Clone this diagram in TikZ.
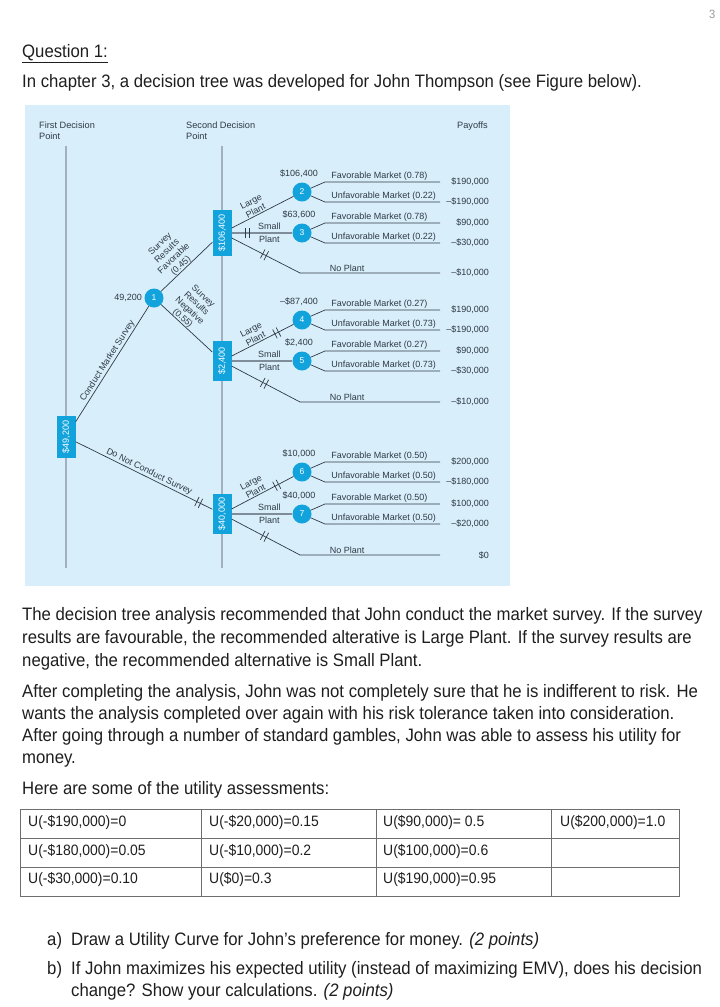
\documentclass[tikz,border=0pt]{standalone}
\usepackage{fontspec}
\setmainfont{Liberation Sans}
\newfontfamily\bodyfont{Liberation Sans}[FakeStretch=0.93]
\usetikzlibrary{positioning,calc}
\definecolor{treepanel}{HTML}{D8EEFB}
\definecolor{treecyan}{HTML}{12A3DD}
\definecolor{treegray}{HTML}{A0B0BE}
\definecolor{treeink}{HTML}{2E3A44}
\definecolor{pageink}{HTML}{1E1E1E}
\definecolor{pagemute}{HTML}{9A9A9A}
\definecolor{gridline}{HTML}{6E6E6E}
\tikzset{
  hdr/.style={font=\fontsize{9.2}{11}\selectfont, text=treeink, align=left, inner sep=0pt, anchor=north west},
  lbl/.style={font=\fontsize{9}{10}\selectfont, text=treeink, inner sep=1pt},
  mkt/.style={font=\fontsize{9}{10}\selectfont, text=treeink, inner sep=1.5pt, anchor=south west},
  pay/.style={font=\fontsize{9}{10}\selectfont, text=treeink, inner sep=0pt, anchor=east},
  val/.style={font=\fontsize{9}{10}\selectfont, text=treeink, inner sep=0pt},
  dbox/.style={rotate=90, fill=treecyan, text=white, font=\fontsize{9}{10}\selectfont, minimum height=19pt, inner sep=0pt},
  chance/.style={circle, fill=treecyan, text=white, font=\fontsize{8.5}{9}\selectfont, minimum size=19pt, inner sep=0pt},
  vline/.style={draw=treegray, line width=2.2pt},
  br/.style={draw=treeink, line width=0.7pt},
  sp/.style={draw=treegray!70!treeink, line width=1.2pt},
  tk/.pic={\draw[br] (-2,-5) -- (-2,5) (2,-5) -- (2,5);},
  body/.style={font=\bodyfont\fontsize{18}{22}\selectfont, text=pageink, inner sep=0pt, anchor=base west},
  cell/.style={body, font=\bodyfont\fontsize{15}{18}\selectfont},
  grid/.style={draw=gridline, line width=0.8pt},
}
\begin{document}
\begin{tikzpicture}[x=1pt, y=-1pt]
\useasboundingbox (0,0) rectangle (720,1007);
% page head
\node[body, font=\bodyfont\fontsize{12}{14}\selectfont, text=pagemute] (pg) at (709,18) {3};
\node[body] (q1) at (22,57) {\underline{Question 1:}};
\node[body] (intro) at (22,87) {In chapter 3, a decision tree was developed for John Thompson (see Figure below).};

% the figure
\fill[treepanel] (25,105) rectangle (510,586);
\node[hdr] (h1) at (39,122) {First Decision\\Point};
\node[hdr] (h2) at (186,122) {Second Decision\\Point};
\node[hdr] (h3) at (457,122) {Payoffs};
\draw[vline] (66,146) -- (66,568);
\draw[vline] (222,146) -- (222,568);

\node[dbox, minimum width=42pt] (b1) at (66,437) {\$49,200};
\node[dbox, minimum width=46pt] (b2) at (222,233) {\$106,400};
\node[dbox, minimum width=40pt] (b3) at (222,361) {\$2,400};
\node[dbox, minimum width=40pt] (b4) at (222,514) {\$40,000};

\node[chance] (c1) at (154,298) {1};
\node[val, anchor=east] (v1) at (142,298) {49,200};
\foreach \n/\y/\v/\pa/\pb/\qa/\qb in {
  2/192/{\$106,400}/0.78/0.22/{\$190,000}/{\textendash\$190,000},
  3/233/{\$63,600}/0.78/0.22/{\$90,000}/{\textendash\$30,000},
  4/320/{\textendash\$87,400}/0.27/0.73/{\$190,000}/{\textendash\$190,000},
  5/361/{\$2,400}/0.27/0.73/{\$90,000}/{\textendash\$30,000},
  6/472/{\$10,000}/0.50/0.50/{\$200,000}/{\textendash\$180,000},
  7/514/{\$40,000}/0.50/0.50/{\$100,000}/{\textendash\$20,000}}{
  \node[chance] (c\n) at (302,\y) {\n};
  \node[val] (v\n) at (299,\y-18) {\v};
  \coordinate (fa\n) at (325,\y-10);
  \coordinate (fb\n) at (440,\y-10);
  \coordinate (ua\n) at (325,\y+10);
  \coordinate (ub\n) at (440,\y+10);
  \draw[br] (c\n) -- (fa\n) -- node[mkt, pos=0.04] {Favorable Market (\pa)} (fb\n);
  \draw[br] (c\n) -- (ua\n) -- node[mkt, pos=0.04] {Unfavorable Market (\pb)} (ub\n);
  \node[pay] (pf\n) at (489,\y-10) {\qa};
  \node[pay] (pu\n) at (489,\y+10) {\qb};
}

% first decision
\draw[br] (b1) -- node[lbl, sloped, above, pos=0.5] {Conduct Market Survey} (c1);
\draw[br] (b1) -- node[lbl, sloped, above, pos=0.52] {Do Not Conduct Survey} pic[pos=0.9, sloped] {tk} (b4);
\draw[br] (c1) -- node[lbl, sloped, above, align=center, pos=0.45, inner sep=0pt] {Survey\\Results\\Favorable\\(0.45)} (b2);
\draw[br] (c1) -- node[lbl, sloped, above, align=center, pos=0.36, inner sep=0pt] {Survey\\Results\\Negative\\(0.55)} (b3);

% second decision
\coordinate (n2) at (300,273); \coordinate (n2e) at (440,273);
\coordinate (n3) at (300,402); \coordinate (n3e) at (440,402);
\coordinate (n4) at (300,555); \coordinate (n4e) at (440,555);
\draw[br] (b2) -- node[lbl, sloped, above, align=center, pos=0.42] {Large\\Plant} (c2);
\draw[sp] (b2) -- pic[pos=0.25] {tk} node[lbl, pos=0.62, align=center, font=\fontsize{9}{13}\selectfont] {Small\\Plant} (c3);
\draw[br] (b2) -- pic[pos=0.48, sloped] {tk} (n2) -- node[mkt, pos=0.2] {No Plant} (n2e);
\draw[br] (b3) -- node[lbl, sloped, above, align=center, pos=0.42] {Large\\Plant} pic[pos=0.73, sloped] {tk} (c4);
\draw[sp] (b3) -- node[lbl, pos=0.62, align=center, font=\fontsize{9}{13}\selectfont] {Small\\Plant} (c5);
\draw[br] (b3) -- pic[pos=0.48, sloped] {tk} (n3) -- node[mkt, pos=0.2] {No Plant} (n3e);
\draw[br] (b4) -- node[lbl, sloped, above, align=center, pos=0.42] {Large\\Plant} pic[pos=0.73, sloped] {tk} (c6);
\draw[sp] (b4) -- node[lbl, pos=0.62, align=center, font=\fontsize{9}{13}\selectfont] {Small\\Plant} (c7);
\draw[br] (b4) -- pic[pos=0.48, sloped] {tk} (n4) -- node[mkt, pos=0.2] {No Plant} (n4e);
\node[pay] (pn2) at (489,273) {\textendash\$10,000};
\node[pay] (pn3) at (489,402) {\textendash\$10,000};
\node[pay] (pn4) at (489,555) {\$0};

% text below
\foreach \y/\t [count=\i] in {
  620/{The decision tree analysis recommended that John conduct the market survey. If the survey},
  643/{results are favourable, the recommended alterative is Large Plant. If the survey results are},
  666/{negative, the recommended alternative is Small Plant.},
  697/{After completing the analysis, John was not completely sure that he is indifferent to risk. He},
  719/{wants the analysis completed over again with his risk tolerance taken into consideration.},
  741/{After going through a number of standard gambles, John was able to assess his utility for},
  763/{money.},
  794/{Here are some of the utility assessments:}}
  \node[body] (t\i) at (22,\y) {\t};

% utility table
\draw[grid] (20,809) rectangle (679,896);
\foreach \y in {838,867} \draw[grid] (20,\y) -- (679,\y);
\foreach \x in {201,376,551} \draw[grid] (\x,809) -- (\x,896);
\foreach \x/\y/\t [count=\i] in {
  28/826/{U(-\$190,000)=0}, 209/826/{U(-\$20,000)=0.15}, 383/826/{U(\$90,000)= 0.5}, 560/826/{U(\$200,000)=1.0},
  28/855/{U(-\$180,000)=0.05}, 209/855/{U(-\$10,000)=0.2}, 383/855/{U(\$100,000)=0.6},
  28/883/{U(-\$30,000)=0.10}, 209/883/{U(\$0)=0.3}, 383/883/{U(\$190,000)=0.95}}
  \node[cell] (u\i) at (\x,\y) {\t};

% questions
\node[body] (qa) at (47,945) {a)};
\node[body] (qat) at (71,945) {Draw a Utility Curve for John’s preference for money. \textit{(2 points)}};
\node[body] (qb) at (47,974) {b)};
\node[body] (qbt) at (71,974) {If John maximizes his expected utility (instead of maximizing EMV), does his decision};
\node[body] (qbt2) at (71,996) {change? Show your calculations. \textit{(2 points)}};
\end{tikzpicture}
\end{document}
